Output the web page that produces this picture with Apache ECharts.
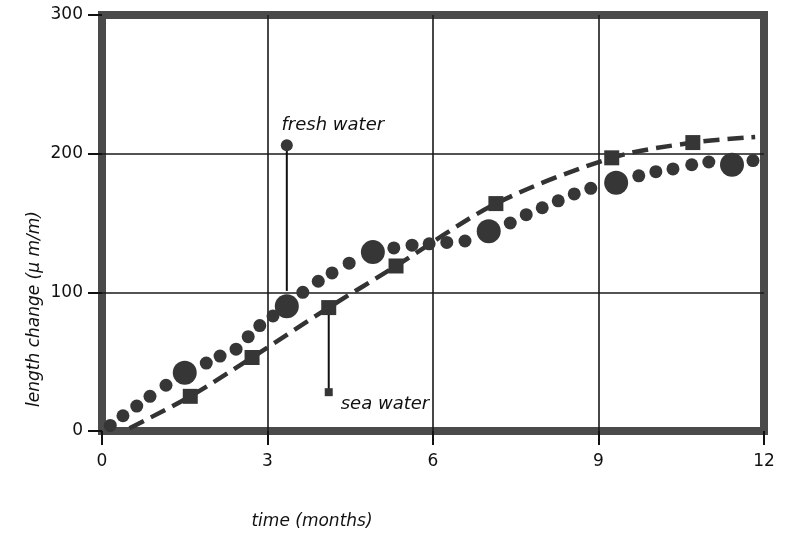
<!DOCTYPE html>
<html>
<head>
<meta charset="utf-8">
<title>length change</title>
<script src="https://cdn.jsdelivr.net/npm/echarts@6/dist/echarts.min.js"></script>
<style>
  html, body { margin: 0; padding: 0; background: #fff; }
  #main { width: 786px; height: 538px; }
</style>
</head>
<body>
<div id="main"></div>
<script>
// fresh water: chain of dots, the big ones every few dots
var freshMonths = [0.15, 0.38, 0.63, 0.87, 1.16, 1.50, 1.89, 2.14, 2.43, 2.65, 2.86, 3.10, 3.35,
  3.64, 3.92, 4.17, 4.48, 4.91, 5.29, 5.62, 5.93, 6.25, 6.58, 7.01, 7.40, 7.69, 7.98,
  8.27, 8.56, 8.86, 9.32, 9.73, 10.04, 10.35, 10.69, 11.00, 11.42, 11.80];
var freshValues = [4, 11, 18, 25, 33, 42, 49, 54, 59, 68, 76, 83, 90,
  100, 108, 114, 121, 129, 132, 134, 135, 136, 137, 144, 150, 156, 161,
  166, 171, 175, 179, 184, 187, 189, 192, 194, 192, 195];
var freshBigIndex = [5, 12, 17, 23, 30, 36];

// sea water: squares and dashed curve
var seaMonths = [1.60, 2.72, 4.11, 5.33, 7.14, 9.24, 10.71];
var seaValues = [25, 53, 89, 119, 164, 197, 208];
var seaCurveMonths = [0.5, 1.60, 2.72, 4.11, 5.33, 7.14, 9.24, 10.71, 11.84];
var seaCurveValues = [2, 25, 53, 89, 119, 164, 197, 208, 212];

// legend pointers (start at the label, end at the curve)
var freshPointer = [[3.35, 206], [3.35, 101]];
var seaPointer = [[4.11, 28], [4.11, 89]];

var monthTicks = [0, 3, 6, 9, 12];
var valueTicks = [0, 100, 200, 300];

function zip(xs, ys) {
  var out = [];
  for (var i = 0; i < xs.length; i++) out.push([xs[i], ys[i]]);
  return out;
}

var freshSmall = [], freshBig = [];
for (var i = 0; i < freshMonths.length; i++) {
  if (freshBigIndex.indexOf(i) >= 0) freshBig.push([freshMonths[i], freshValues[i]]);
  else freshSmall.push([freshMonths[i], freshValues[i]]);
}

var ink = '#363636';
var font = 'DejaVu Sans';
var dotStyle = { color: ink, opacity: 1 };

var myChart = echarts.init(document.getElementById('main'));

var option = {
  animation: false,
  grid: {
    left: 102, right: 22, top: 15, bottom: 107,
    show: true,
    borderColor: '#4a4a4a',
    borderWidth: 8
  },
  xAxis: {
    type: 'value',
    min: monthTicks[0],
    max: monthTicks[monthTicks.length - 1],
    interval: 3,
    axisLine: { show: false },
    axisTick: { show: true, length: 14, lineStyle: { color: '#111', width: 2 } },
    axisLabel: { margin: 22, fontFamily: font, fontSize: 17, color: '#111' },
    splitLine: { show: true, showMinLine: false, showMaxLine: false, lineStyle: { color: '#1a1a1a', width: 1.6 } }
  },
  yAxis: {
    type: 'value',
    min: valueTicks[0],
    max: valueTicks[valueTicks.length - 1],
    interval: 100,
    axisLine: { show: false },
    axisTick: { show: true, length: 14, lineStyle: { color: '#111', width: 2 } },
    axisLabel: { margin: 19, fontFamily: font, fontSize: 17, color: '#111' },
    splitLine: { show: true, showMinLine: false, showMaxLine: false, lineStyle: { color: '#1a1a1a', width: 1.6 } }
  },
  graphic: [
    {
      type: 'text', x: 35, y: 309, rotation: Math.PI / 2,
      style: { text: 'length change (\u03bc m/m)', font: 'italic 17px "DejaVu Sans"', fill: '#111',
        textAlign: 'center', textVerticalAlign: 'middle' }
    },
    {
      type: 'text', x: 312, y: 522,
      style: { text: 'time (months)', font: 'italic 17px "DejaVu Sans"', fill: '#111',
        textAlign: 'center', textVerticalAlign: 'middle' }
    }
  ],
  series: [
    {
      type: 'line', data: freshPointer, symbol: 'none', z: 3,
      lineStyle: { color: '#111', width: 2 }
    },
    {
      type: 'scatter', data: [freshPointer[0]], symbol: 'circle', symbolSize: 12, z: 4,
      itemStyle: dotStyle,
      label: { show: true, formatter: 'fresh water', position: 'top', distance: 5, offset: [46, 0],
        fontFamily: font, fontStyle: 'italic', fontSize: 18, color: '#111' }
    },
    {
      type: 'line', data: seaPointer, symbol: 'none', z: 3,
      lineStyle: { color: '#111', width: 2 }
    },
    {
      type: 'scatter', data: [seaPointer[0]], symbol: 'rect', symbolSize: 8, z: 4,
      itemStyle: dotStyle,
      label: { show: true, formatter: 'sea water', position: 'right', distance: 8, offset: [0, 12],
        fontFamily: font, fontStyle: 'italic', fontSize: 18, color: '#111' }
    },
    {
      type: 'line', data: zip(seaCurveMonths, seaCurveValues), smooth: 0.3, symbol: 'none', z: 3,
      lineStyle: { color: '#333', width: 4.5, type: [16, 8] }
    },
    {
      type: 'scatter', data: zip(seaMonths, seaValues), symbol: 'rect', symbolSize: 15, z: 4,
      itemStyle: dotStyle
    },
    {
      type: 'scatter', data: freshSmall, symbol: 'circle', symbolSize: 13, z: 4,
      itemStyle: dotStyle
    },
    {
      type: 'scatter', data: freshBig, symbol: 'circle', symbolSize: 24, z: 4,
      itemStyle: dotStyle
    }
  ]
};

myChart.setOption(option, true);
</script>
</body>
</html>
